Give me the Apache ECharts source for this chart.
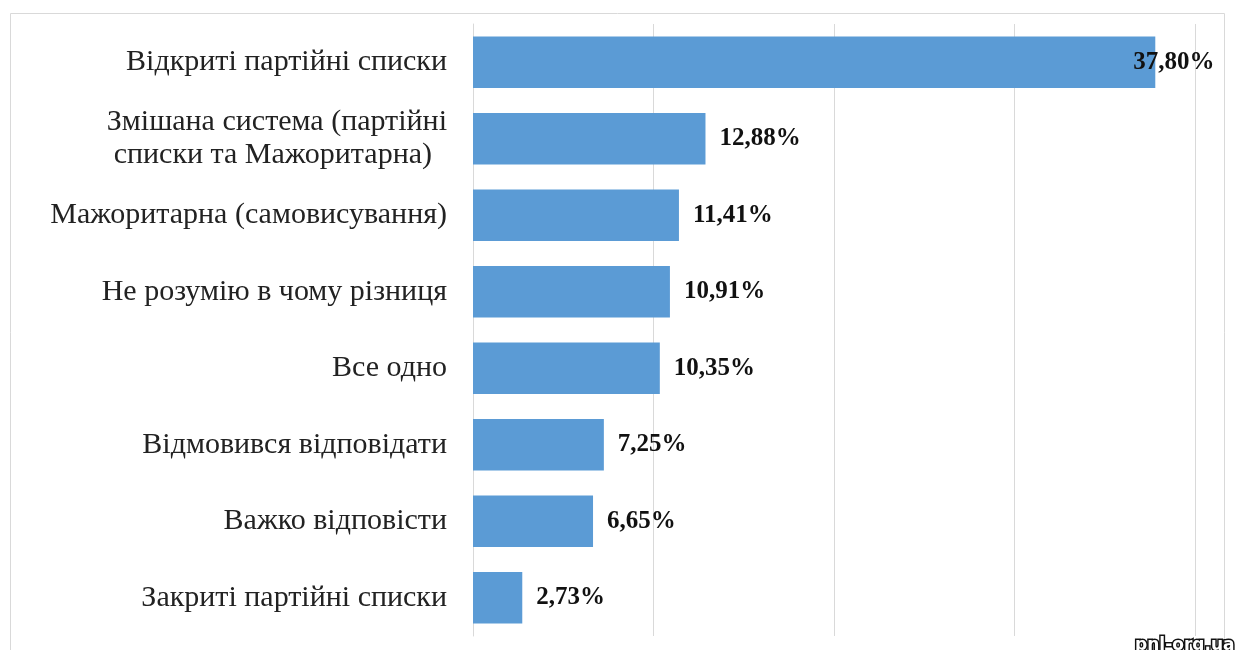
<!DOCTYPE html>
<html>
    <head>
        <meta charset="utf-8">
        <script src="https://cdn.jsdelivr.net/npm/echarts@6/dist/echarts.min.js"></script>
        <style>
            html, body { margin: 0; padding: 0; background: #fff; }
            #main { width: 1238px; height: 650px; }
        </style>
    </head>
    <body>
        <div id="main"></div>
        <script>
        // top to bottom, as in the picture
        const categories = [
            'Відкриті партійні списки',
            'Змішана система (партійні\nсписки та Мажоритарна)',
            'Мажоритарна (самовисування)',
            'Не розумію в чому різниця',
            'Все одно',
            'Відмовився відповідати',
            'Важко відповісти',
            'Закриті партійні списки'
        ];
        const values = [37.80, 12.88, 11.41, 10.91, 10.35, 7.25, 6.65, 2.73];

        const chart = echarts.init(document.getElementById('main'));

        const serif = '"Liberation Serif", "Times New Roman", serif';

        chart.setOption({
            animation: false,
            grid: {
                left: 473,
                right: 43,
                top: 24,
                bottom: 14
            },
            xAxis: {
                type: 'value',
                min: 0,
                max: 40,
                interval: 10,
                axisLabel: { show: false },
                axisLine: { show: false },
                axisTick: { show: false },
                splitLine: { lineStyle: { color: '#d9d9d9', width: 1 } }
            },
            yAxis: {
                type: 'category',
                inverse: true,
                data: categories,
                axisTick: { show: false },
                axisLine: { lineStyle: { color: '#d9d9d9' } },
                axisLabel: {
                    margin: 26,
                    color: '#222',
                    fontFamily: serif,
                    fontSize: 30,
                    lineHeight: 33,
                    formatter: function (v) {
                        if (v.indexOf('\n') < 0) return v;
                        const parts = v.split('\n');
                        return '{a|' + parts[0] + '}\n{b|' + parts[1] + '}';
                    },
                    rich: {
                        a: { fontFamily: serif, fontSize: 30, color: '#222', lineHeight: 33 },
                        b: { fontFamily: serif, fontSize: 30, color: '#222', lineHeight: 33, padding: [0, 15, 0, 0] }
                    }
                }
            },
            series: [{
                type: 'bar',
                barCategoryGap: '33%',
                itemStyle: { color: '#5b9bd5' },
                label: {
                    show: true,
                    position: 'right',
                    distance: 14,
                    color: '#111',
                    fontFamily: serif,
                    fontWeight: 'bold',
                    fontSize: 25,
                    formatter: function (p) {
                        return p.value.toFixed(2).replace('.', ',') + '%';
                    }
                },
                data: values.map(function (v, i) {
                    // the biggest label sits over the end of its bar
                    if (i === 0) {
                        return { value: v, label: { offset: [-36, 0] } };
                    }
                    return v;
                })
            }],
            graphic: [{
                type: 'rect',
                shape: { x: 10.5, y: 13.5, width: 1214, height: 660 },
                style: { fill: 'none', stroke: '#d9d9d9', lineWidth: 1 },
                silent: true
            }, {
                type: 'text',
                right: 2,
                bottom: -6,
                style: {
                    text: 'pnl-org.ua',
                    font: 'bold 17px "DejaVu Sans", sans-serif',
                    fill: '#fff',
                    stroke: '#111',
                    lineWidth: 3
                },
                z: 10
            }]
        });
        </script>
    </body>
</html>
